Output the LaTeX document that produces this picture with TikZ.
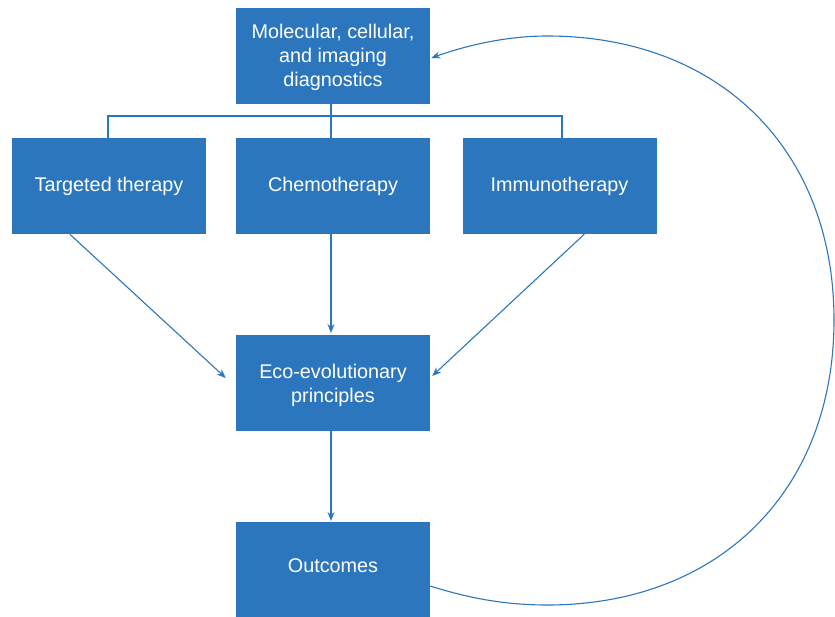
\documentclass[tikz,border=0pt]{standalone}
\usepackage{fontspec}
\setmainfont{Liberation Sans}
\usetikzlibrary{arrows.meta,calc}
\definecolor{boxblue}{HTML}{2B76BC}
\newcommand{\boxlines}[1]{\begin{tabular}[b]{@{}c@{}}#1\end{tabular}}
\begin{document}
\begin{tikzpicture}[x=1pt,y=-1pt,
  box/.style={fill=boxblue,draw=none,text=white,minimum width=194pt,minimum height=96pt,inner sep=0pt,align=center,
    font=\fontsize{19.8}{23.9}\selectfont,text depth=4pt,text height=15.4pt},
  conn/.style={draw=boxblue,line width=1.1pt},
  arr/.style={conn,-{Stealth[length=9pt,width=7pt]}}]
\useasboundingbox (0,0) rectangle (835,616);
\node[box,text height=65pt] (top) at (333,56) {\boxlines{Molecular, cellular,\\and imaging\\diagnostics}};
\node[box] (tt) at (109,186) {Targeted therapy};
\node[box] (ch) at (333,186) {Chemotherapy};
\node[box] (im) at (559.5,186) {Immunotherapy};
\node[box,text height=43.4pt] (eco) at (333,383) {\boxlines{Eco-evolutionary\\principles}};
\node[box,text height=8pt] (out) at (333,570) {Outcomes};
\coordinate (j) at (331,116);
\draw[conn] (331,104) -- (j);
\draw[conn] (108,138) |- (j) -| (562,138);
\draw[conn] (j) -- (331,138);
\draw[arr] ($(tt.south west)+(58,0)$) -- ($(eco.west)+(-10,-5)$);
\draw[arr] (331,234) -- (331,333);
\draw[arr] ($(im.south west)+(122,0)$) -- ($(eco.east)+(2,-7)$);
\draw[arr] (331,431) -- (331,521);
\draw[arr] ($(out.east)+(0,16)$) .. controls (468,598) and (505,605) .. (547,605)
  .. controls (719,605) and (834,491) .. (834,320)
  .. controls (834,149) and (719,36) .. (547,36)
  .. controls (505,36) and (465,46) .. ($(top.east)+(1,2)$);
\end{tikzpicture}
\end{document}
